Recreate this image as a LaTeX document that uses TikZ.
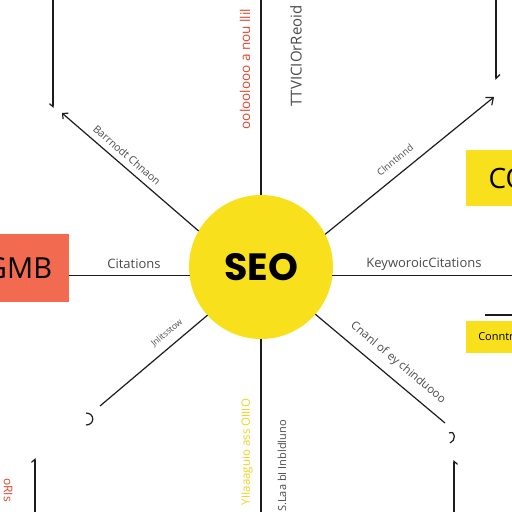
\documentclass[tikz,border=0pt]{standalone}
\usepackage{fontspec}
\setmainfont{Open Sans}
\newfontfamily\seofont{Poppins}
\usetikzlibrary{arrows.meta,positioning}
\definecolor{seoyellow}{HTML}{F8E01C}
\definecolor{gmbcoral}{HTML}{F26A4F}
\definecolor{linedark}{HTML}{1C1C1C}
\definecolor{taggray}{HTML}{4A4A4A}
\definecolor{tagred}{HTML}{E3442C}
\definecolor{tagyellow}{HTML}{EDD21A}
\begin{document}
\begin{tikzpicture}[x=1pt,y=-1pt,
  link/.style={draw=linedark,line width=1.2pt},
  tag/.style={text=taggray,inner sep=0pt},
  sidebox/.style={inner sep=0pt,outer sep=0pt,text=black}]
\useasboundingbox (0,0) rectangle (512,512);
\node [circle,fill=seoyellow,minimum size=144pt,inner sep=0pt,outer sep=0pt] (seo) at (261,267) {\seofont\bfseries\fontsize{38}{40}\selectfont SEO};
\node [sidebox,fill=gmbcoral,minimum width=100pt,minimum height=68pt,font=\fontsize{29}{32}\selectfont] (gmb) at (19,268) {GMB};
\node [sidebox,fill=seoyellow,minimum width=84pt,minimum height=56pt,font=\fontsize{28}{32}\selectfont] (co) at (508,178) {CO};
\node [sidebox,fill=seoyellow,minimum width=60pt,minimum height=32pt,font=\fontsize{11}{13}\selectfont] (cnt) at (496,337) {Conntr};
\coordinate (topend) at (261,0);
\coordinate (botend) at (261,512);
\coordinate (rightend) at (512,276);
\coordinate (ul) at (62,113);
\coordinate (ur) at (494,97);
\coordinate (ll) at (100,406);
\coordinate (lr) at (445,423);
\coordinate (ultop) at (53,0);
\coordinate (ulhook) at (53,108);
\coordinate (urtop) at (496,0);
\coordinate (urhook) at (496,80);
\coordinate (llbot) at (35,512);
\coordinate (llhook) at (35,458);
\coordinate (lrbot) at (454,512);
\coordinate (lrhook) at (454,460);
\coordinate (cntline) at (485,315);
\draw [link] (seo.north) -- (topend);
\draw [link] (seo.south) -- (botend);
\draw [link] (seo.187) -- (seo.187 -| gmb.east);
\draw [link] (seo.-7) -- (seo.-7 -| rightend);
\draw [link,-{Straight Barb[length=4pt,width=8pt]}] (seo.150) -- (ul);
\draw [link,-{Straight Barb[length=6pt,width=10pt]}] (seo.27) -- (ur);
\draw [link] (seo.222) -- (ll);
\draw [link] (seo.-41) -- (lr);
\draw [link,-{Straight Barb[right,length=3pt,width=7pt]}] (ultop) -- (ulhook);
\draw [link,-{Straight Barb[left,length=4pt,width=8pt]}] (urtop) -- (urhook);
\draw [link,-{Straight Barb[left,length=3pt,width=7pt]}] (llbot) -- (llhook);
\draw [link,-{Straight Barb[right,length=3pt,width=7pt]}] (lrbot) -- (lrhook);
\draw [link] (cntline) -- (cntline -| rightend);
\draw [link] (86,413) .. controls (95,413) and (95,425) .. (86,425);
\draw [link] (449,433) .. controls (456,430) and (456,441) .. (450,443);
\draw (134,264) node [tag,font=\fontsize{13}{15}\selectfont] {Citations};
\draw (424,264) node [tag,font=\fontsize{13}{15}\selectfont] {KeyworoicCitations};
\draw (127,155) node [tag,rotate=-41,font=\fontsize{10.5}{12}\selectfont] {Barrnodt Chnaon};
\draw (395,160) node [tag,rotate=39,font=\fontsize{9.5}{11}\selectfont] {Clnntinnd};
\draw (167,333) node [tag,rotate=40,font=\fontsize{8.5}{10}\selectfont] {Jnlitsstow};
\draw (398,363) node [tag,rotate=-40,font=\fontsize{11.5}{13}\selectfont] {Cnanl of ey chinduooo};
\draw (245,69) node [tag,text=tagred,rotate=90,font=\fontsize{13.5}{15}\selectfont] {ooloolooo a nou llil};
\draw (296,56) node [tag,rotate=90,font=\fontsize{15}{17}\selectfont] {TTVICIOrReoid};
\draw (247,452) node [tag,text=tagyellow,rotate=90,font=\fontsize{11.5}{13}\selectfont] {YIIaaaguio ass OIIIO};
\draw (282,466) node [tag,rotate=90,font=\fontsize{11}{12}\selectfont] {S.Laa bI Inbldluno};
\draw (8,478) node [tag,text=tagred,rotate=-90,anchor=west,font=\fontsize{12}{13}\selectfont] {oRIs};
\end{tikzpicture}
\end{document}
